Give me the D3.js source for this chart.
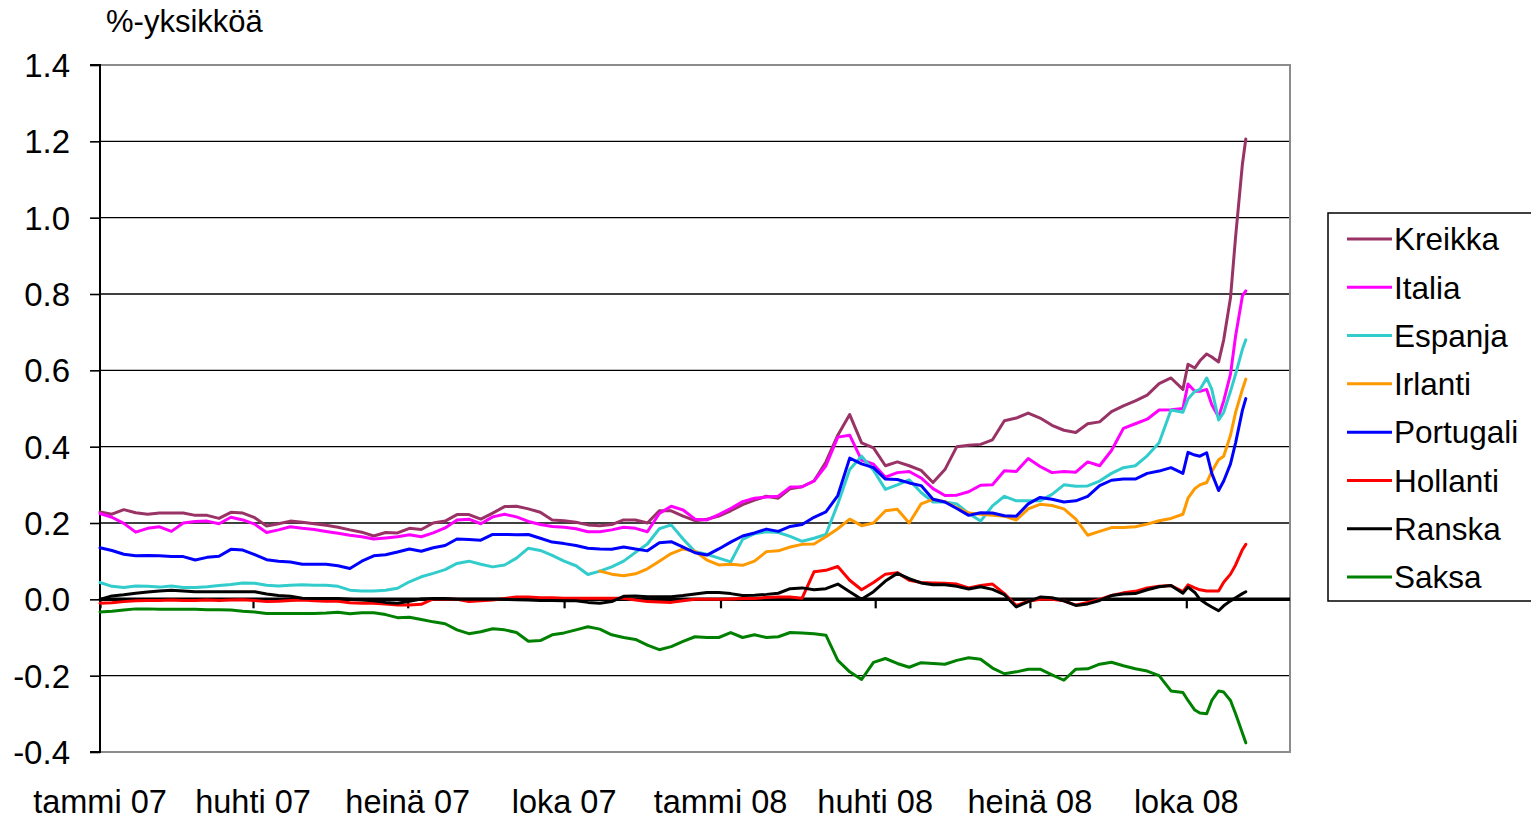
<!DOCTYPE html>
<html><head><meta charset="utf-8">
<script src="https://cdn.jsdelivr.net/npm/d3@7"></script>
<style>
body{margin:0;background:#fff;overflow:hidden;}
text{font-family:"Liberation Sans",Arial,sans-serif;fill:#000;}
</style>
</head><body>
<svg id="chart" width="1531" height="821"></svg>
<script>
// ---- categories (dates) ----
const weeklyStart = "2007-01-01";
const weeklyEnd = "2008-09-29";
const extraDates = ["2008-10-02","2008-10-06","2008-10-09","2008-10-13","2008-10-16","2008-10-20",
  "2008-10-23","2008-10-27","2008-10-30","2008-11-03","2008-11-05"];
const axisStart = "2007-01-01", axisEnd = "2008-12-01";

// ---- tick labels ----
const yTicks = [-0.4,-0.2,0,0.2,0.4,0.6,0.8,1.0,1.2,1.4];
const xLabelDates = ["2007-01-01","2007-04-01","2007-07-01","2007-10-01","2008-01-01","2008-04-01","2008-07-01","2008-10-01"];
const xLabels = ["tammi 07","huhti 07","heinä 07","loka 07","tammi 08","huhti 08","heinä 08","loka 08"];
const unitLabel = "%-yksikköä";

// ---- series ----
const seriesNames = ["Kreikka","Italia","Espanja","Irlanti","Portugali","Hollanti","Ranska","Saksa"];
const seriesColors = ["#993366","#FF00FF","#33CCCC","#FF9900","#0000FF","#FF0000","#000000","#008000"];

const kreikka = [0.229,0.223,0.235,0.227,0.223,0.226,0.226,0.226,0.22,0.22,
 0.212,0.228,0.226,0.214,0.192,0.198,0.205,0.202,0.198,0.194,
 0.189,0.182,0.176,0.166,0.175,0.174,0.186,0.183,0.2,0.205,
 0.222,0.222,0.21,0.226,0.243,0.244,0.237,0.228,0.208,0.206,
 0.202,0.195,0.193,0.196,0.208,0.208,0.2,0.232,0.232,0.218,
 0.206,0.21,0.218,0.232,0.248,0.26,0.27,0.265,0.29,0.295,
 0.31,0.36,0.43,0.484,0.41,0.397,0.35,0.36,0.35,0.338,
 0.306,0.34,0.4,0.404,0.406,0.418,0.468,0.475,0.488,0.475,
 0.456,0.443,0.437,0.46,0.465,0.492,0.507,0.52,0.535,0.565,
 0.58,0.55,
 0.616,0.606,0.625,0.643,0.635,0.622,0.68,0.79,0.95,1.14,1.206];

const italia = [0.225,0.215,0.199,0.176,0.186,0.19,0.178,0.2,0.204,0.205,
 0.198,0.215,0.208,0.197,0.175,0.182,0.19,0.186,0.183,0.178,
 0.173,0.168,0.164,0.158,0.161,0.164,0.169,0.164,0.174,0.187,
 0.208,0.21,0.198,0.216,0.223,0.216,0.204,0.196,0.191,0.189,
 0.185,0.177,0.177,0.182,0.189,0.186,0.177,0.225,0.244,0.234,
 0.21,0.208,0.222,0.238,0.256,0.265,0.268,0.27,0.294,0.295,
 0.31,0.35,0.425,0.43,0.365,0.354,0.32,0.332,0.335,0.318,
 0.29,0.272,0.273,0.282,0.299,0.3,0.337,0.335,0.369,0.348,
 0.332,0.335,0.333,0.36,0.35,0.39,0.448,0.46,0.472,0.496,
 0.497,0.5,
 0.564,0.545,0.545,0.55,0.51,0.478,0.52,0.59,0.69,0.795,0.808];

const espanja = [0.044,0.034,0.031,0.035,0.034,0.032,0.035,0.031,0.031,0.033,
 0.036,0.039,0.043,0.042,0.037,0.035,0.037,0.038,0.037,0.037,
 0.034,0.024,0.022,0.022,0.024,0.029,0.046,0.059,0.068,0.078,
 0.094,0.1,0.092,0.085,0.09,0.108,0.134,0.128,0.115,0.1,
 0.088,0.065,0.074,0.085,0.1,0.123,0.145,0.185,0.195,0.158,
 0.125,0.118,0.108,0.098,0.157,0.172,0.177,0.175,0.165,0.152,
 0.16,0.17,0.25,0.34,0.375,0.338,0.288,0.3,0.313,0.28,
 0.255,0.255,0.25,0.225,0.205,0.245,0.27,0.258,0.258,0.258,
 0.275,0.3,0.296,0.297,0.31,0.33,0.345,0.35,0.376,0.41,
 0.496,0.49,
 0.525,0.545,0.55,0.58,0.55,0.47,0.49,0.545,0.59,0.655,0.68];

const irlanti = [null,null,null,null,null,null,null,null,null,null,
 null,null,null,null,null,null,null,null,null,null,
 null,null,null,null,null,null,null,null,null,null,
 null,null,null,null,null,null,null,null,null,null,
 null,null,0.074,0.066,0.062,0.067,0.08,0.1,0.12,0.132,
 0.126,0.103,0.09,0.092,0.089,0.1,0.125,0.127,0.137,0.144,
 0.145,0.164,0.185,0.21,0.193,0.2,0.232,0.236,0.2,0.25,
 0.262,0.256,0.24,0.226,0.223,0.22,0.218,0.208,0.237,0.249,
 0.246,0.237,0.21,0.168,0.178,0.188,0.188,0.19,0.197,0.206,
 0.212,0.223,
 0.265,0.29,0.3,0.306,0.335,0.366,0.375,0.43,0.49,0.55,0.577];

const portugali = [0.135,0.128,0.118,0.114,0.115,0.114,0.112,0.112,0.103,0.11,
 0.113,0.131,0.129,0.117,0.104,0.1,0.098,0.092,0.092,0.092,
 0.088,0.081,0.1,0.114,0.117,0.124,0.132,0.126,0.135,0.141,
 0.158,0.157,0.155,0.17,0.17,0.169,0.17,0.16,0.15,0.146,
 0.141,0.134,0.132,0.131,0.137,0.132,0.127,0.148,0.151,0.137,
 0.122,0.116,0.132,0.15,0.166,0.174,0.184,0.178,0.191,0.196,
 0.215,0.229,0.272,0.37,0.355,0.345,0.315,0.314,0.305,0.298,
 0.262,0.255,0.238,0.22,0.227,0.226,0.219,0.218,0.25,0.267,
 0.262,0.255,0.258,0.27,0.298,0.312,0.315,0.315,0.33,0.336,
 0.345,0.33,
 0.385,0.378,0.375,0.384,0.33,0.285,0.31,0.355,0.41,0.495,0.526];

const hollanti = [-0.01,-0.009,-0.006,-0.004,-0.003,-0.003,-0.002,-0.003,-0.003,-0.002,
 -0.003,-0.002,-0.001,-0.003,-0.006,-0.005,-0.003,-0.002,-0.004,-0.005,
 -0.005,-0.009,-0.01,-0.01,-0.012,-0.015,-0.015,-0.013,0.001,0.001,
 0,-0.006,-0.004,-0.002,0.002,0.006,0.006,0.004,0.004,0.003,
 0.003,0.003,0.003,0.003,0.003,-0.002,-0.006,-0.007,-0.008,-0.004,
 0,0,0,0.001,0.002,0.002,0.005,0.006,0.006,0.003,
 0.072,0.076,0.086,0.05,0.025,0.044,0.066,0.07,0.05,0.044,
 0.043,0.042,0.04,0.03,0.036,0.04,0.015,-0.016,-0.005,0,
 0,-0.004,-0.015,-0.008,0,0.01,0.017,0.021,0.03,0.034,
 0.036,0.02,
 0.038,0.03,0.025,0.022,0.022,0.022,0.045,0.066,0.09,0.13,0.144];

const ranska = [0,0.009,0.012,0.016,0.019,0.022,0.024,0.022,0.02,0.02,
 0.02,0.02,0.02,0.02,0.014,0.01,0.008,0.003,0.002,0.002,
 0.002,0,-0.002,-0.004,-0.008,-0.01,-0.005,0.001,0.002,0.002,
 0,0,0,0,0,-0.001,-0.002,-0.003,-0.003,-0.004,
 -0.004,-0.008,-0.01,-0.006,0.008,0.009,0.007,0.007,0.007,0.01,
 0.014,0.018,0.018,0.015,0.01,0.011,0.013,0.016,0.028,0.03,
 0.025,0.028,0.04,0.02,0,0.02,0.048,0.068,0.054,0.043,
 0.038,0.038,0.034,0.027,0.033,0.026,0.012,-0.02,-0.006,0.006,
 0.004,-0.004,-0.016,-0.012,-0.003,0.01,0.014,0.015,0.025,0.033,
 0.036,0.016,
 0.032,0.018,0,-0.012,-0.02,-0.03,-0.017,-0.004,0.004,0.015,0.02];

const saksa = [-0.033,-0.031,-0.028,-0.025,-0.025,-0.026,-0.026,-0.026,-0.026,-0.027,
 -0.027,-0.028,-0.031,-0.033,-0.037,-0.037,-0.037,-0.037,-0.037,-0.036,
 -0.034,-0.038,-0.035,-0.035,-0.04,-0.048,-0.047,-0.053,-0.059,-0.064,
 -0.08,-0.09,-0.085,-0.077,-0.08,-0.087,-0.11,-0.108,-0.093,-0.088,
 -0.08,-0.072,-0.078,-0.093,-0.1,-0.105,-0.12,-0.132,-0.124,-0.11,
 -0.098,-0.1,-0.1,-0.087,-0.1,-0.093,-0.1,-0.098,-0.087,-0.088,
 -0.09,-0.094,-0.16,-0.19,-0.21,-0.165,-0.155,-0.168,-0.178,-0.166,
 -0.168,-0.17,-0.16,-0.153,-0.157,-0.18,-0.195,-0.19,-0.183,-0.183,
 -0.198,-0.212,-0.183,-0.182,-0.17,-0.165,-0.174,-0.182,-0.188,-0.2,
 -0.24,-0.244,
 -0.265,-0.29,-0.298,-0.3,-0.265,-0.24,-0.243,-0.265,-0.3,-0.35,-0.376];

const seriesValues = [kreikka, italia, espanja, irlanti, portugali, hollanti, ranska, saksa];

// ---- build ----
const parse = d3.utcParse("%Y-%m-%d");
const dates = d3.utcMonday.range(parse(weeklyStart), d3.utcDay.offset(parse(weeklyEnd), 1))
  .concat(extraDates.map(parse));

const svg = d3.select("#chart");
const plot = {left:100, right:1290, top:65, bottom:752};

const x = d3.scaleUtc().domain([parse(axisStart), parse(axisEnd)]).range([plot.left, plot.right]);
const y = d3.scaleLinear().domain([-0.4, 1.4]).range([plot.bottom, plot.top]);

// gridlines
svg.append("g").selectAll("line").data(yTicks.filter(t => t !== 0 && t > -0.4 && t < 1.4))
  .join("line")
  .attr("x1", plot.left).attr("x2", plot.right)
  .attr("y1", d => y(d)).attr("y2", d => y(d))
  .attr("stroke", "#000").attr("stroke-width", 1.4);

// plot border (grey)
svg.append("rect")
  .attr("x", plot.left).attr("y", plot.top)
  .attr("width", plot.right - plot.left).attr("height", plot.bottom - plot.top)
  .attr("fill", "none").attr("stroke", "#8c8c8c").attr("stroke-width", 2);

// y axis
const yAxis = d3.axisLeft(y).tickValues(yTicks).tickSize(10).tickPadding(20)
  .tickFormat(d => d3.format(".1f")(d).replace("−","-"));
const gy = svg.append("g").attr("transform", `translate(${plot.left},0)`).call(yAxis);
gy.select(".domain").attr("stroke", "#000").attr("stroke-width", 2).attr("d", `M-10,${plot.top}H0V${plot.bottom}H-10`);
gy.selectAll(".tick line").attr("stroke", "#000").attr("stroke-width", 1.6);
gy.selectAll(".tick text").attr("font-size", 33).attr("font-family", "Liberation Sans, Arial, sans-serif")
  .attr("fill", "#000").attr("dy", "0.35em");

// zero axis (x axis crossing at 0)
const xAxis = d3.axisBottom(x).tickValues(xLabelDates.map(parse)).tickSize(9).tickFormat("");
const gx = svg.append("g").attr("transform", `translate(0,${y(0)})`).call(xAxis);
gx.select(".domain").attr("stroke", "#000").attr("stroke-width", 3.5).attr("d", `M${plot.left},0H${plot.right}`);
gx.selectAll(".tick line").attr("stroke", "#000").attr("stroke-width", 2.2);

// x labels at bottom
svg.append("g").selectAll("text").data(xLabelDates)
  .join("text")
  .attr("x", d => x(parse(d))).attr("y", 813)
  .attr("text-anchor", "middle").attr("font-size", 32.5)
  .text((d, i) => xLabels[i]);

// unit label
svg.append("text").attr("x", 106).attr("y", 32).attr("font-size", 31).text(unitLabel);

// series lines
const line = d3.line().defined(d => d[1] !== null)
  .x(d => x(d[0])).y(d => y(d[1]));
const gLines = svg.append("g");
seriesValues.forEach((vals, i) => {
  gLines.append("path")
    .datum(vals.map((v, j) => [dates[j], v]))
    .attr("fill", "none").attr("stroke", seriesColors[i])
    .attr("stroke-width", 3).attr("stroke-linejoin", "round").attr("stroke-linecap", "round")
    .attr("d", line);
});

// legend
const lg = svg.append("g");
lg.append("rect").attr("x", 1328).attr("y", 213).attr("width", 215).attr("height", 388)
  .attr("fill", "#fff").attr("stroke", "#000").attr("stroke-width", 1.5);
const legendY = d3.scalePoint().domain(seriesNames).range([239, 577]);
seriesNames.forEach((n, i) => {
  const yy = legendY(n);
  lg.append("line").attr("x1", 1347).attr("x2", 1392).attr("y1", yy).attr("y2", yy)
    .attr("stroke", seriesColors[i]).attr("stroke-width", 3);
  lg.append("text").attr("x", 1394).attr("y", yy).attr("dy", "0.36em")
    .attr("font-size", 31.5).text(n);
});
</script>
</body></html>
